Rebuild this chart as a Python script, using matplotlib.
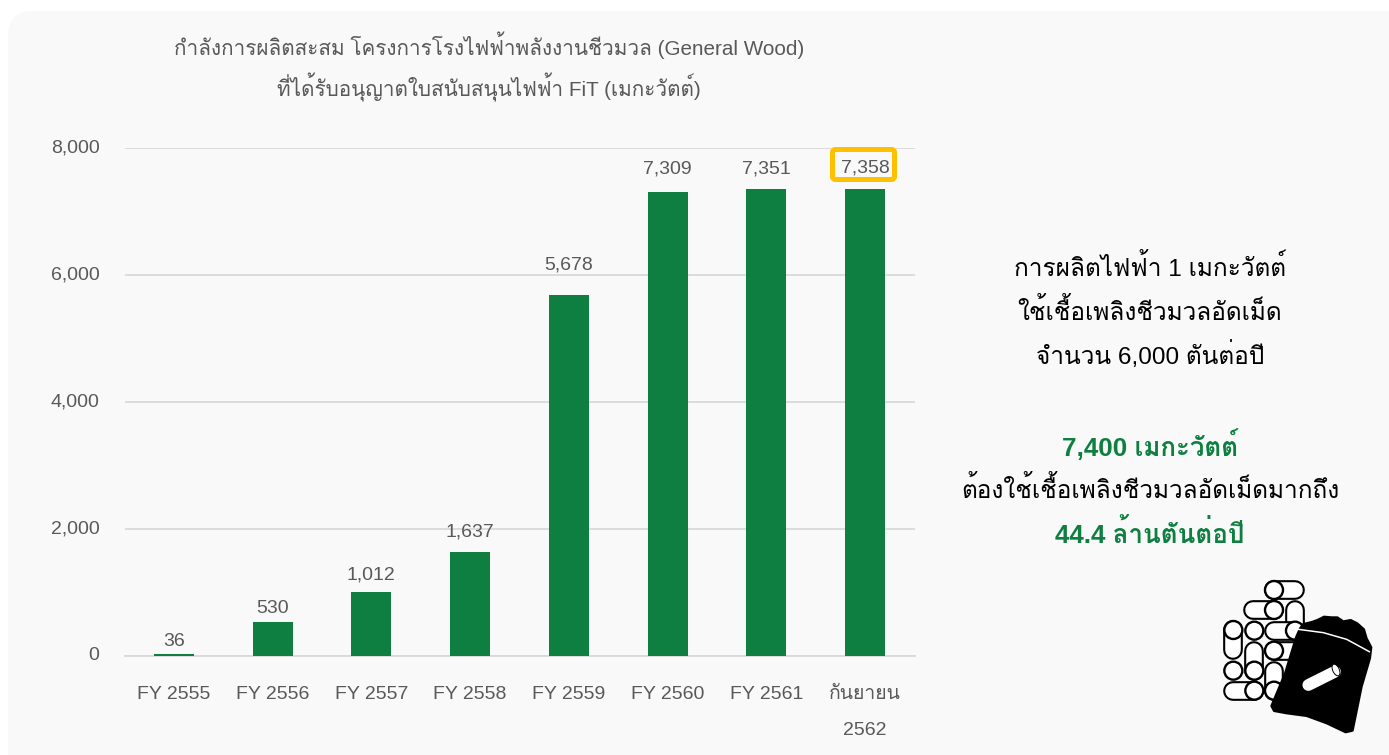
import matplotlib
matplotlib.use("Agg")
import matplotlib.pyplot as plt
from matplotlib.transforms import ScaledTranslation
from matplotlib.patches import FancyBboxPatch, Circle, Polygon, Ellipse

categories = ["FY 2555", "FY 2556", "FY 2557", "FY 2558", "FY 2559", "FY 2560", "FY 2561", "กันยายน\n2562"]
values = [36, 530, 1012, 1637, 5678, 7309, 7351, 7358]
yticks = [0, 2000, 4000, 6000, 8000]
title_lines = ["กำลังการผลิตสะสม โครงการโรงไฟฟ้าพลังงานชีวมวล (General Wood)",
               "ที่ได้รับอนุญาตใบสนับสนุนไฟฟ้า FiT (เมกะวัตต์)"]
note_lines = ["การผลิตไฟฟ้า 1 เมกะวัตต์", "ใช้เชื้อเพลิงชีวมวลอัดเม็ด", "จำนวน 6,000 ตันต่อปี",
              "7,400 เมกะวัตต์", "ต้องใช้เชื้อเพลิงชีวมวลอัดเม็ดมากถึง", "44.4 ล้านตันต่อปี"]
note_bold = [False, False, False, True, False, True]
label_gap_px = [12, 14, 17, 20, 30, 23, 20, 21]

plt.rcParams["font.family"] = ["Liberation Sans", "Loma", "Noto Sans Thai Looped", "DejaVu Sans"]

GREEN = "#0E7F41"
GREY = "#595959"
W, H = 1389, 755
fig = plt.figure(figsize=(W / 100, H / 100), dpi=100, facecolor="white")

bg = fig.add_axes([0, 0, 1, 1], zorder=0)
bg.set_xlim(0, W); bg.set_ylim(H, 0); bg.axis("off")
bg.add_patch(FancyBboxPatch((8 + 25, 11 + 25), W + 60, H + 60, boxstyle="round,pad=25,rounding_size=25",
                            fc="#F9F9F9", ec="none"))

ax = fig.add_axes([124.5 / W, 1 - 656 / H, 790 / W, 508 / H], zorder=1)
ax.patch.set_alpha(0)
bars = ax.bar(range(len(values)), values, width=0.405, color=GREEN, zorder=3)
ax.set_xlim(-0.5, 7.5)
ax.set_ylim(0, 8000)
ax.set_yticks(yticks)
ax.set_yticklabels([f"{v:,}" for v in yticks])
ax.set_xticks(range(len(categories)))
ax.set_xticklabels(categories, linespacing=2.45)
ax.tick_params(axis="both", length=0, labelsize=14, labelcolor=GREY)
ax.tick_params(axis="y", pad=18)
ax.tick_params(axis="x", pad=21.5)
up = ScaledTranslation(0, 2 / 100, fig.dpi_scale_trans)
for lab in ax.get_yticklabels():
    lab.set_transform(lab.get_transform() + up)
ax.grid(axis="y", color="#D9D9D9", lw=1.3, zorder=0)
ax.set_axisbelow(True)
for s in ["top", "left", "right"]:
    ax.spines[s].set_visible(False)
ax.spines["bottom"].set_color("#D9D9D9")
ax.spines["bottom"].set_linewidth(1.3)
for i, (v, gap) in enumerate(zip(values, label_gap_px)):
    ax.annotate(f"{v:,}", (i, v), xytext=(0, gap * 0.72), textcoords="offset points",
                ha="center", va="center", fontsize=14, color=GREY)

ov = fig.add_axes([0, 0, 1, 1], zorder=2)
ov.set_xlim(0, W); ov.set_ylim(H, 0); ov.axis("off")
ov.patch.set_alpha(0)

for t, y in zip(title_lines, [45, 87]):
    ov.text(489, y, t, ha="center", va="center", fontsize=14.9, color=GREY)
for t, y, b in zip(note_lines, [267, 311, 355, 445, 490, 534], note_bold):
    ov.text(1150, y, t, ha="center", va="center", fontsize=18.7 if b else 17.6,
            color=GREEN if b else "black", fontweight="bold" if b else "normal")

ov.add_patch(FancyBboxPatch((832.5 + 3, 149.5 + 3), 62 - 6, 30 - 6, boxstyle="round,pad=3,rounding_size=3",
                            fc="none", ec="#FFC000", lw=3.6))

# icon (zoom-crop coordinates)
zx = lambda x: 1200 + x / 3
zy = lambda y: 560 + y / 3
caps = [((222, 90), (285, 90)), ((160, 150), (222, 150)), ((285, 150), (285, 212)), ((345, 150), (345, 150)),
        ((100, 210), (100, 270)), ((163, 272), (163, 332)), ((222, 212), (285, 212)), ((222, 272), (285, 272)),
        ((222, 332), (222, 392)), ((100, 392), (163, 392))]
circles = [(222, 90), (222, 150), (100, 210), (163, 212), (222, 272), (100, 332), (163, 332), (163, 392), (222, 392), (285, 212)]
for a, b in caps:
    ov.plot([zx(a[0]), zx(b[0])], [zy(a[1]), zy(b[1])], color="black", lw=14.2, solid_capstyle="round", zorder=3)
    ov.plot([zx(a[0]), zx(b[0])], [zy(a[1]), zy(b[1])], color="white", lw=11.2, solid_capstyle="round", zorder=3)
for c in circles:
    ov.add_patch(Circle((zx(c[0]), zy(c[1])), 9.0, fc="white", ec="black", lw=1.7, zorder=4))
bag = [(300, 205), (310, 192), (335, 186), (352, 180), (372, 170), (395, 172), (412, 172), (430, 184), (452, 180), (472, 190), (492, 208),
       (500, 235), (514, 262), (510, 295), (485, 380),
       (458, 512), (437, 517), (380, 490), (320, 468), (260, 460), (222, 453), (214, 438), (255, 340), (288, 232)]
ov.add_patch(Polygon([(zx(x), zy(y)) for x, y in bag], closed=True, fc="black", ec="black", lw=1.5, joinstyle="round", zorder=5))
ov.plot([zx(x) for x in (295, 370, 440, 508)], [zy(y) for y in (208, 218, 238, 275)], color="white", lw=1.1, zorder=6)
ov.plot([zx(325), zx(405)], [zy(375), zy(335)], color="white", lw=8.5, solid_capstyle="round", zorder=6)
ov.add_patch(Ellipse((zx(408), zy(330)), 6.5, 12.5, angle=-25, fc="white", ec="black", lw=0.7, zorder=7))

fig.savefig("out.png", dpi=100, facecolor="white")
